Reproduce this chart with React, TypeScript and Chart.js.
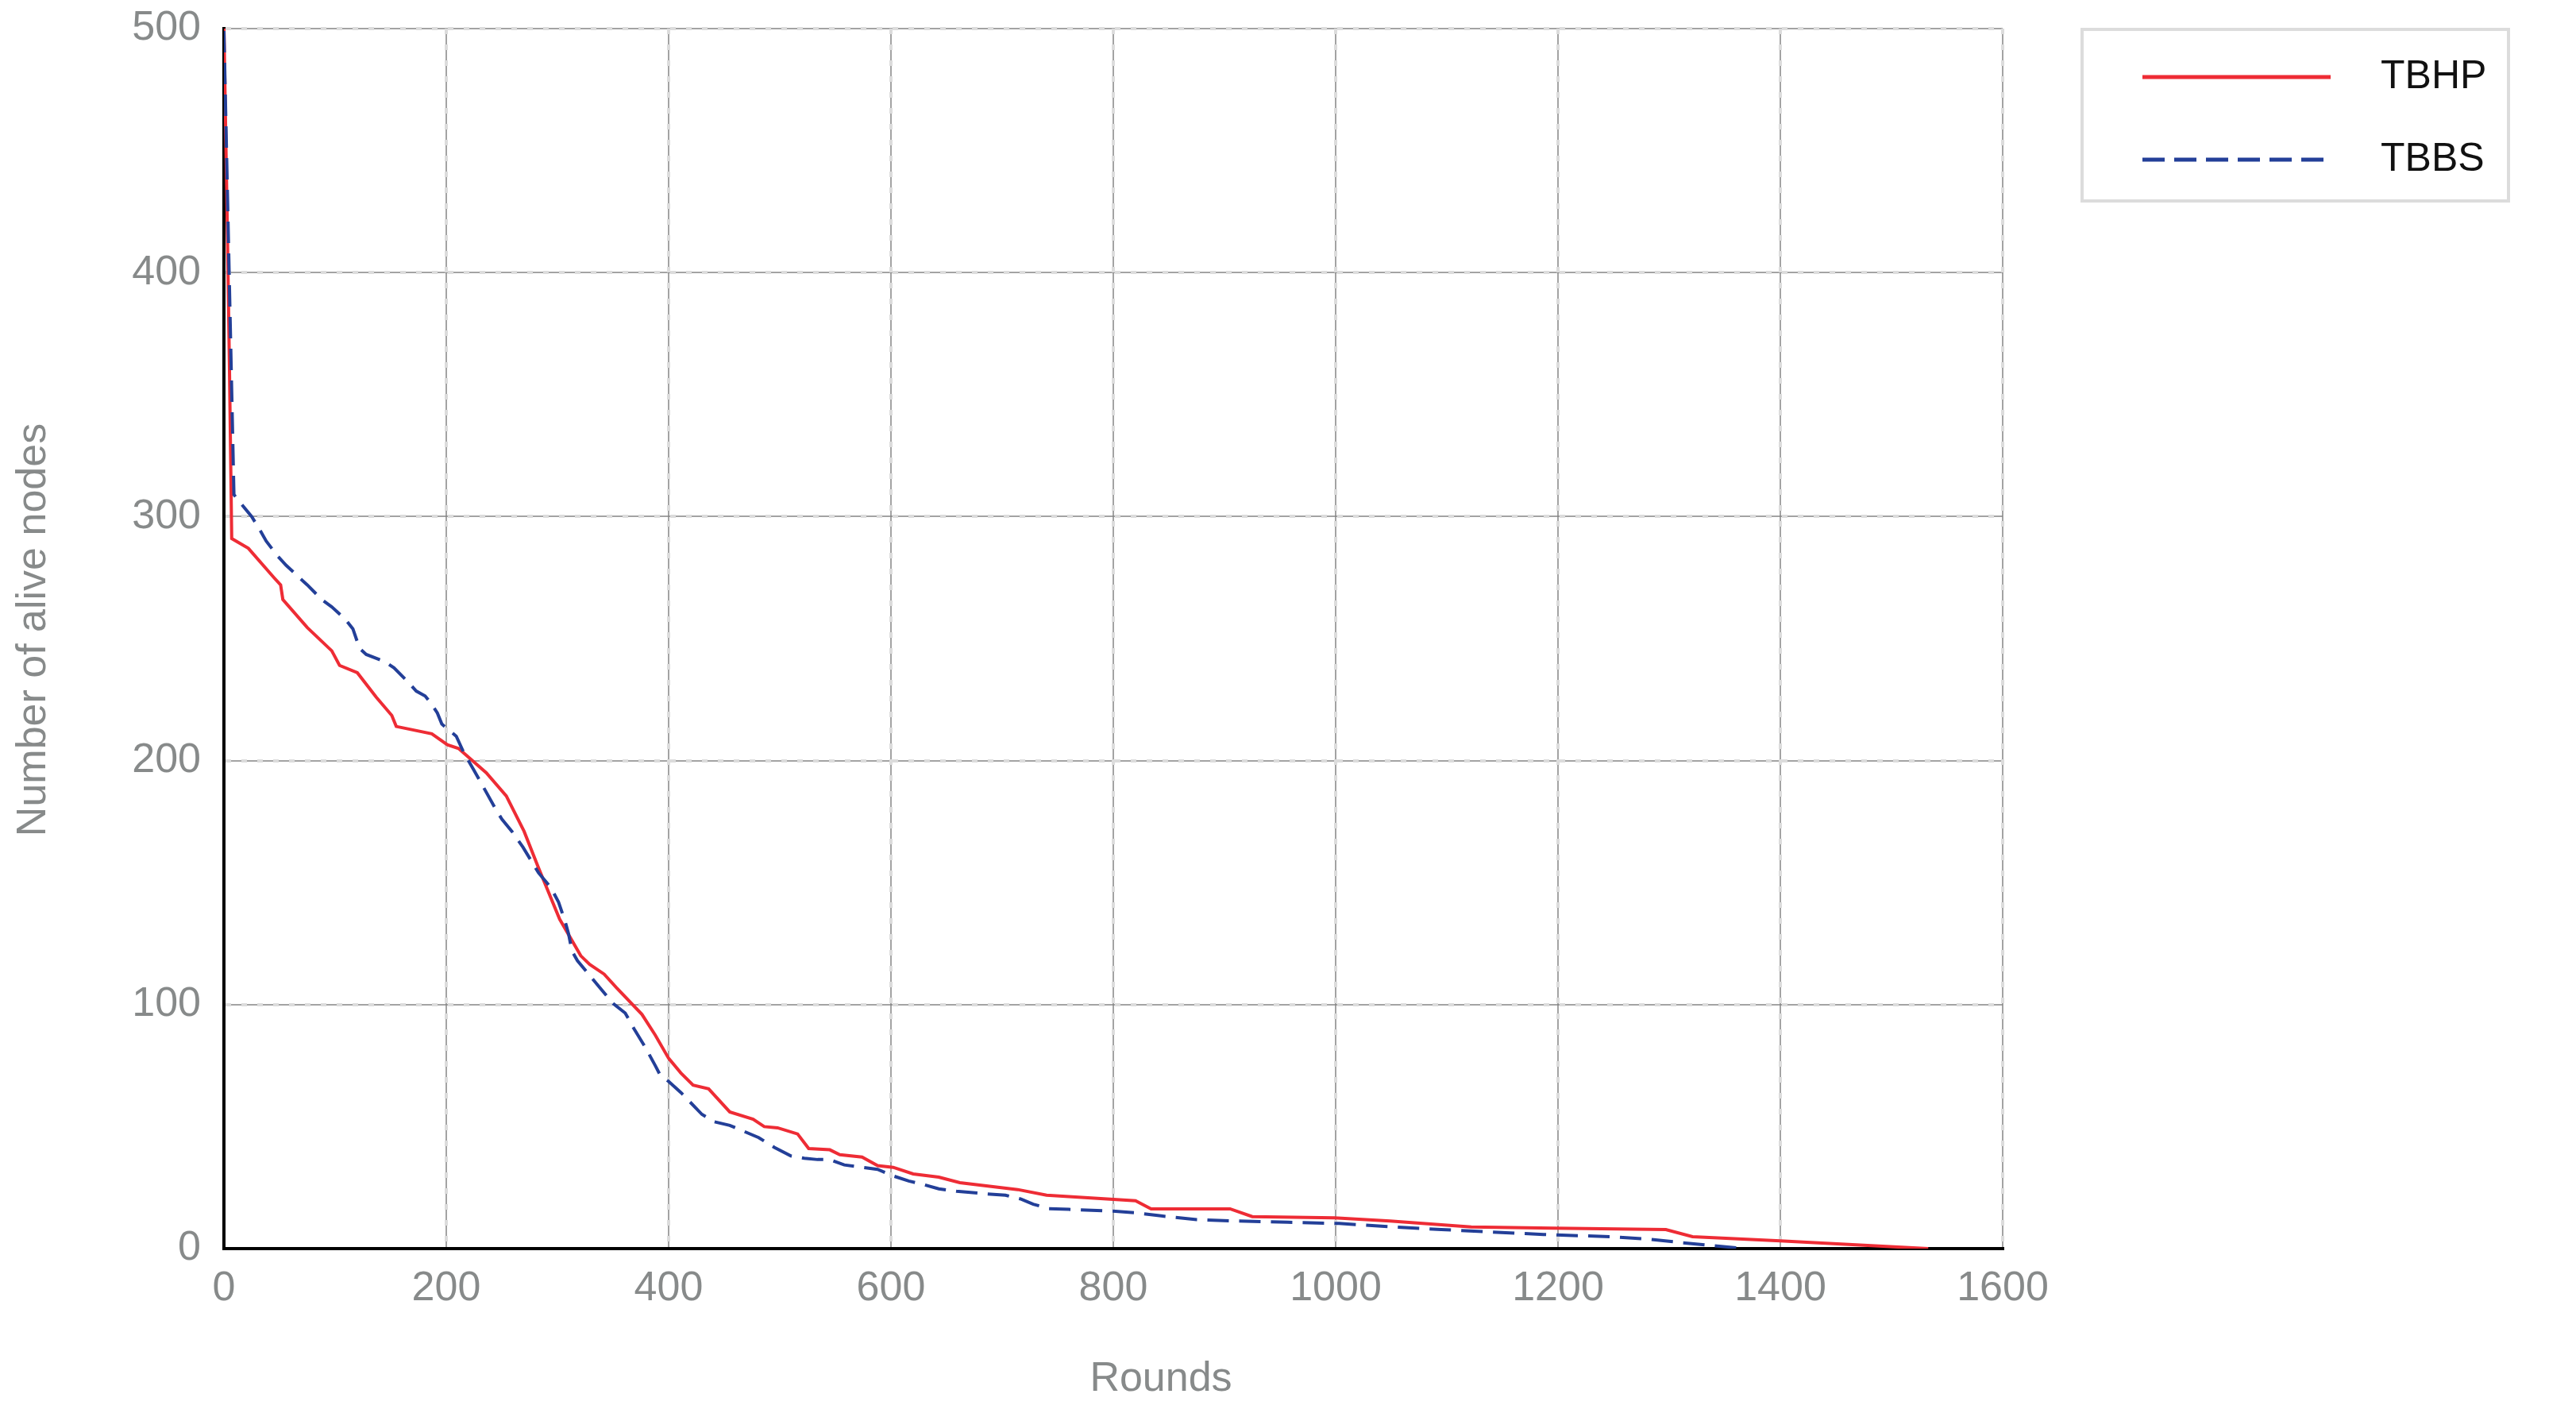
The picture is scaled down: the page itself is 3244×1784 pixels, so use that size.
import React, { useEffect, useRef } from 'react';
import { Chart, registerables } from 'chart.js';

Chart.register(...registerables);

// ---- data ----
const seriesNames = ['TBHP', 'TBBS'];
const xTitle = 'Rounds';
const yTitle = 'Number of alive nodes';

const tbhpRounds = [0, 3, 5, 7, 22, 45, 51, 53, 75, 97, 104, 120, 137, 151, 155, 187, 201, 211, 236, 254, 270, 283, 302, 321, 329, 342, 353, 376, 388, 400, 411, 422, 436, 455, 476, 486, 498, 516, 526, 545, 554, 574, 588, 602, 620, 643, 662, 714, 740, 820, 834, 905, 925, 999, 1049, 1122, 1196, 1297, 1321, 1400, 1533];
const tbhpAlive = [500, 420, 360, 291, 287, 275, 272, 266, 254.5, 245, 239, 236, 226, 218.5, 214, 211, 206.5, 205, 195, 185.5, 171, 156, 135, 120, 116.5, 112.5, 107, 96, 87.5, 78, 72, 67, 65.5, 56, 53, 50, 49.5, 47, 41, 40.5, 38.5, 37.5, 34, 33.3, 30.6, 29.3, 27, 24.2, 21.9, 19.6, 16.3, 16.3, 13.1, 12.6, 11.3, 8.9, 8.4, 7.8, 4.9, 3.2, 0];

const tbbsRounds = [0, 9, 16, 25, 33, 38, 48, 56, 69, 75, 88, 97, 109, 116, 122, 128, 145, 153, 166, 173, 181, 187, 192, 196, 201, 209, 216, 225, 244, 250, 259, 269, 283, 294, 301, 307, 310, 313, 318, 328, 338, 350, 361, 369, 379, 388, 392, 400, 411, 430, 441, 455, 468, 481, 495, 510, 522, 534, 545, 558, 574, 588, 602, 616, 629, 643, 659, 687, 703, 717, 728, 742, 760, 802, 820, 843, 875, 912, 957, 1003, 1049, 1095, 1141, 1187, 1251, 1283, 1312, 1340, 1369];
const tbbsAlive = [499, 309, 305, 300, 294, 290, 284, 280, 274.5, 272, 266, 263, 258, 254, 246, 243.5, 240.5, 238, 232, 228.5, 226.5, 223, 219.5, 215, 213, 210, 203, 196, 180.5, 176, 171, 164.5, 154, 148, 142, 134, 129, 122, 118, 112.5, 107, 100.5, 96.5, 90, 82.5, 75, 71.5, 68.5, 64, 55, 52, 50.5, 48, 45.5, 41.5, 38, 37, 36.5, 36.5, 34.3, 33.3, 32.5, 29.8, 27.7, 26.3, 24.5, 23.5, 22.4, 21.9, 20.3, 18.2, 16.4, 16.1, 15.3, 14.7, 13.4, 11.9, 11.3, 10.8, 10.3, 9, 7.8, 6.8, 5.8, 4.8, 3.8, 2.4, 1.2, 0];

const xMin = 0, xMax = 1600, xStep = 200;
const yMin = 0, yMax = 500, yStep = 100;

// ---- styles ----
const W = 3244, H = 1784;
const FONT = '"Liberation Sans", Arial, Helvetica, sans-serif';
const RED = '#ee2c35';
const BLUE = '#233f98';
const GRAY = '#878a8a';
const DASH_GRID = '#dcdcdc';
const THIN_GRID = '#858585';

const thinGridPlugin = {
  id: 'thinGrid',
  beforeDraw(chart: any) {
    const { ctx, chartArea: a, scales } = chart;
    const xs = scales.x, ys = scales.y;
    ctx.save();
    ctx.strokeStyle = THIN_GRID;
    ctx.lineWidth = 1.5;
    ctx.beginPath();
    xs.ticks.forEach((t: any) => {
      const px = Math.round(xs.getPixelForValue(t.value));
      ctx.moveTo(px, a.top);
      ctx.lineTo(px, a.bottom);
    });
    ys.ticks.forEach((t: any) => {
      const py = Math.round(ys.getPixelForValue(t.value));
      ctx.moveTo(a.left, py);
      ctx.lineTo(a.right, py);
    });
    ctx.stroke();
    ctx.restore();
  },
};

const decorPlugin = {
  id: 'decor',
  afterDraw(chart: any) {
    const { ctx } = chart;
    ctx.save();
    // axis titles
    ctx.fillStyle = GRAY;
    ctx.font = `52px ${FONT}`;
    ctx.textAlign = 'center';
    ctx.textBaseline = 'middle';
    ctx.fillText(xTitle, 1462, 1737);
    ctx.save();
    ctx.translate(43, 793);
    ctx.rotate(-Math.PI / 2);
    ctx.fillText(yTitle, 0, 0);
    ctx.restore();

    // legend box
    ctx.strokeStyle = '#dcdcdc';
    ctx.lineWidth = 4;
    ctx.strokeRect(2622, 37, 537, 216);

    const rows = [
      { name: seriesNames[0], color: RED, dash: [] as number[], y: 97 },
      { name: seriesNames[1], color: BLUE, dash: [28, 12], y: 201 },
    ];
    rows.forEach((r) => {
      ctx.save();
      ctx.strokeStyle = r.color;
      ctx.lineWidth = 5;
      ctx.setLineDash(r.dash);
      ctx.beginPath();
      ctx.moveTo(2698, r.y);
      ctx.lineTo(2935, r.y);
      ctx.stroke();
      ctx.restore();
      ctx.fillStyle = '#111111';
      ctx.font = `50px ${FONT}`;
      ctx.textAlign = 'left';
      ctx.textBaseline = 'middle';
      ctx.fillText(r.name, 2998, r.y);
    });
    ctx.restore();
  },
};

export default function App() {
  const ref = useRef<HTMLCanvasElement | null>(null);

  useEffect(() => {
    document.body.style.margin = '0';
    const canvas = ref.current;
    if (!canvas) return;
    const tickFont = { family: FONT, size: 52, lineHeight: 1.2 };
    const chart = new Chart(canvas, {
      type: 'line',
      data: {
        datasets: [
          {
            label: seriesNames[1],
            data: tbbsRounds.map((r, i) => ({ x: r, y: tbbsAlive[i] })),
            borderColor: BLUE,
            backgroundColor: BLUE,
            borderWidth: 4,
            borderDash: [27, 13],
            pointRadius: 0,
            tension: 0,
            fill: false,
            order: 0,
          },
          {
            label: seriesNames[0],
            data: tbhpRounds.map((r, i) => ({ x: r, y: tbhpAlive[i] })),
            borderColor: RED,
            backgroundColor: RED,
            borderWidth: 4,
            pointRadius: 0,
            tension: 0,
            fill: false,
            order: 1,
          },
        ],
      },
      options: {
        responsive: false,
        animation: false,
        devicePixelRatio: 1,
        layout: { padding: { top: 36, right: 722, left: 0, bottom: 0 } },
        plugins: {
          legend: { display: false },
          tooltip: { enabled: false },
        },
        scales: {
          x: {
            type: 'linear',
            min: xMin,
            max: xMax,
            ticks: {
              stepSize: xStep,
              color: GRAY,
              font: tickFont,
              padding: 19,
              maxRotation: 0,
              autoSkip: false,
              callback: (v: any) => String(v),
            },
            grid: { color: DASH_GRID, lineWidth: 4, drawTicks: false },
            border: { display: true, color: '#000000', width: 4, dash: [7, 13] },
            afterFit: (s: any) => {
              s.height = 212;
              s.paddingLeft = 0;
              s.paddingRight = 0;
            },
          },
          y: {
            type: 'linear',
            min: yMin,
            max: yMax,
            ticks: {
              stepSize: yStep,
              color: GRAY,
              font: tickFont,
              padding: 29,
              callback: (v: any) => String(v),
            },
            grid: { color: DASH_GRID, lineWidth: 4, drawTicks: false },
            border: { display: true, color: '#000000', width: 4, dash: [7, 13] },
            afterFit: (s: any) => {
              s.width = 282;
              s.paddingTop = 0;
              s.paddingBottom = 0;
            },
          },
        },
      } as any,
      plugins: [thinGridPlugin, decorPlugin],
    });
    return () => chart.destroy();
  }, []);

  return (
    <div style={{ position: 'fixed', left: 0, top: 0, width: W, height: H, background: '#ffffff', overflow: 'hidden' }}>
      <canvas ref={ref} width={W} height={H} style={{ width: W, height: H, display: 'block' }} />
    </div>
  );
}
